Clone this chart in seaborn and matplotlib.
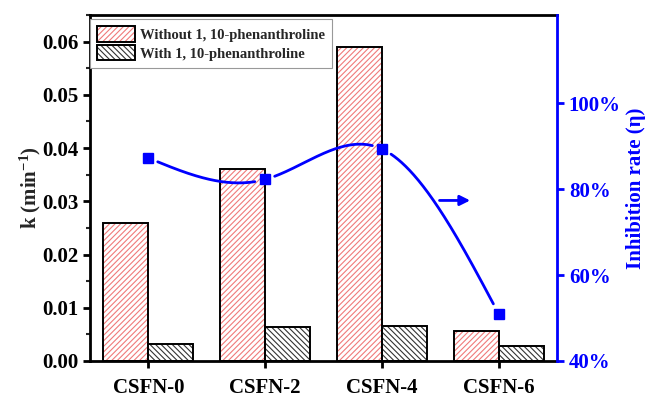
import numpy as np
import pandas as pd
import matplotlib
matplotlib.use("Agg")
import matplotlib.pyplot as plt
import seaborn as sns
from matplotlib.patches import Patch, Rectangle
from matplotlib.legend_handler import HandlerTuple
from matplotlib.ticker import MultipleLocator, FixedLocator, FuncFormatter

samples = ["CSFN-0", "CSFN-2", "CSFN-4", "CSFN-6"]
k_without = [0.026, 0.036, 0.059, 0.0056]
k_with = [0.0032, 0.0064, 0.0065, 0.0029]
inhibition = [87.3, 82.3, 89.4, 51.0]
conditions = ["Without 1, 10-phenanthroline", "With 1, 10-phenanthroline"]
right_ticks = [40, 60, 80, 100]

sns.set_theme(style="white")
plt.rcParams["font.family"] = ["Liberation Serif", "DejaVu Serif"]
plt.rcParams["font.weight"] = "bold"
plt.rcParams["mathtext.fontset"] = "custom"
plt.rcParams["mathtext.rm"] = "Liberation Serif:bold"
plt.rcParams["mathtext.bf"] = "Liberation Serif:bold"
plt.rcParams["mathtext.it"] = "Liberation Serif:bold:italic"
plt.rcParams["hatch.linewidth"] = 0.8

FS = 15

df = pd.DataFrame({
    "sample": samples * 2,
    "k": k_without + k_with,
    "cond": [conditions[0]] * 4 + [conditions[1]] * 4,
})

fig = plt.figure(figsize=(6.45, 3.99), dpi=100)
ax = fig.add_axes([90 / 645, 38 / 399, (557 - 90) / 645, (361 - 15) / 399])

hatch_colors = ["#f07a7a", "#333333"]
hatches = ["//////", "\\\\\\\\\\\\"]
sns.barplot(data=df, x="sample", y="k", hue="cond", order=samples,
            hue_order=conditions, palette=["white", "white"], width=0.77,
            linewidth=0, ax=ax, legend=False)
for cont, hc, h in zip(ax.containers, hatch_colors, hatches):
    for p in cont.patches:
        p.set_edgecolor(hc)
        p.set_hatch(h)
        p.set_linewidth(0)
        ax.add_patch(Rectangle(p.get_xy(), p.get_width(), p.get_height(),
                               fill=False, edgecolor="black", linewidth=1.4, zorder=3))

ax.set_xlim(-0.5, 3.5)
ax.set_ylim(0, 0.065)
ax.yaxis.set_major_locator(MultipleLocator(0.01))
ax.yaxis.set_minor_locator(MultipleLocator(0.005))
ax.yaxis.set_major_formatter(FuncFormatter(lambda v, p: f"{v:.2f}"))
ax.set_xlabel("")
ax.set_ylabel("k (min$^{-1}$)", fontsize=FS, fontweight="bold", labelpad=-1)
ax.tick_params(axis="both", which="major", direction="out", length=5, width=2,
               labelsize=FS, colors="black", left=True, bottom=True)
ax.tick_params(axis="y", which="minor", direction="out", length=3, width=1.5, left=True)
ax.tick_params(axis="x", pad=7)
for lab in ax.get_xticklabels() + ax.get_yticklabels():
    lab.set_fontweight("bold")
for s in ["left", "bottom", "top"]:
    ax.spines[s].set_linewidth(2)
    ax.spines[s].set_color("black")
ax.spines["right"].set_visible(False)

ax2 = ax.twinx()
ax2.set_ylim(40, 120.6)
ax2.yaxis.set_major_locator(FixedLocator(right_ticks))
ax2.yaxis.set_major_formatter(FuncFormatter(lambda v, p: f"{v:.0f}%"))
ax2.tick_params(axis="y", direction="out", length=5, width=2, labelsize=FS,
                colors="blue", right=True)
for lab in ax2.get_yticklabels():
    lab.set_fontweight("bold")
for s in ["left", "bottom", "top"]:
    ax2.spines[s].set_visible(False)
ax2.spines["right"].set_color("blue")
ax2.spines["right"].set_linewidth(2)
ax2.set_ylabel("Inhibition rate (η)", fontsize=FS, fontweight="bold", color="blue",
               labelpad=4)

# natural cubic spline through the inhibition points (display smoothing)
xs = np.arange(len(inhibition), dtype=float)
ys = np.array(inhibition, dtype=float)
n = len(xs)
A = np.zeros((n, n)); b = np.zeros(n)
A[0, 0] = 1; A[-1, -1] = 1
for i in range(1, n - 1):
    A[i, i - 1] = 1; A[i, i] = 4; A[i, i + 1] = 1
    b[i] = 6 * (ys[i - 1] - 2 * ys[i] + ys[i + 1])
M = np.linalg.solve(A, b)
xd = np.linspace(xs[0], xs[-1], 600)
seg = np.minimum(np.floor(xd).astype(int), n - 2)
t = xd - seg
yd = (M[seg] * (1 - t) ** 3 / 6 + M[seg + 1] * t ** 3 / 6
      + (ys[seg] - M[seg] / 6) * (1 - t) + (ys[seg + 1] - M[seg + 1] / 6) * t)
pd_ = ax2.transData.transform(np.column_stack([xd, yd]))
pn = ax2.transData.transform(np.column_stack([xs, ys]))
dist = np.min(np.hypot(pd_[:, None, 0] - pn[None, :, 0], pd_[:, None, 1] - pn[None, :, 1]), axis=1)
yd_m = np.where(dist < 10, np.nan, yd)
ax2.plot(xd, yd_m, color="blue", linewidth=2, zorder=4)
ax2.plot(xs, ys, linestyle="none", marker="s", markersize=7, color="blue", zorder=5)
ax2.annotate("", xy=(2.78, 77.4), xytext=(2.47, 77.4),
             arrowprops=dict(arrowstyle="-|>", color="blue", lw=2, mutation_scale=15))

handles = [(Patch(facecolor="white", edgecolor=hc, hatch=h, linewidth=0),
            Patch(fill=False, edgecolor="black", linewidth=1.4))
           for hc, h in zip(hatch_colors, hatches)]
leg = ax.legend(handles, conditions, loc="upper left", bbox_to_anchor=(0.0, 0.988),
                borderaxespad=0, fancybox=False, edgecolor="#999999", framealpha=1,
                prop={"family": "Liberation Serif", "weight": "bold", "size": 10.5},
                handlelength=2.6, handleheight=1.25, handletextpad=0.3,
                labelspacing=0.2, borderpad=0.5,
                handler_map={tuple: HandlerTuple(ndivide=1, pad=0)})
leg.get_frame().set_linewidth(0.8)
leg.set_zorder(10)

fig.savefig("out.png", dpi=100)
